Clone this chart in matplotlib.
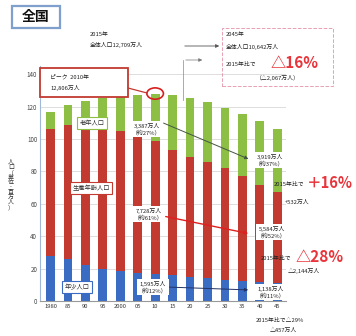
import numpy as np
import matplotlib
matplotlib.use('Agg')
import matplotlib.pyplot as plt
from matplotlib.patches import Ellipse, Rectangle

plt.rcParams['font.family'] = ['Noto Sans CJK JP', 'DejaVu Sans']

# 年次と年齢3区分別人口（百万人）
years = ['1980', '85', '90', '95', '2000', '05', '10', '15', '20', '25', '30', '35', '40', '45']
young = [27.5, 26.0, 22.5, 20.0, 18.5, 17.5, 16.8, 15.95, 15.07, 14.07, 13.21, 12.46, 11.94, 11.38]
working = [78.8, 82.5, 85.9, 87.2, 86.2, 84.1, 81.7, 77.28, 74.06, 71.70, 68.75, 64.94, 59.78, 55.84]
elderly = [10.6, 12.5, 14.9, 18.3, 22.0, 25.8, 29.5, 33.87, 36.19, 36.77, 37.16, 37.82, 39.21, 39.19]
yticks = [0, 20, 40, 60, 80, 100, 120, 140]

W, H = 356, 336
fig = plt.figure(figsize=(W / 100, H / 100), dpi=100)
ax = fig.add_axes([40 / W, 1 - 301 / H, 246 / W, 235 / H])

c_young, c_work, c_old = '#3a6cc4', '#c23a30', '#8dbf45'
x = np.arange(len(years))
y_a = np.array(young)
w_a = np.array(working)
o_a = np.array(elderly)
ax.bar(x, y_a, 0.5, color=c_young, zorder=2)
ax.bar(x, w_a, 0.5, bottom=y_a, color=c_work, zorder=2)
ax.bar(x, o_a, 0.5, bottom=y_a + w_a, color=c_old, zorder=2)

ax.set_xlim(-0.6, 13.5)
ax.set_ylim(0, 145)
ax.set_xticks(x)
ax.set_xticklabels(years, fontsize=4.2, color='#333333')
ax.set_yticks(yticks)
ax.set_yticklabels([str(v) for v in yticks], fontsize=4.5, color='#444444')
ax.tick_params(length=0, pad=2)
for v in yticks[1:]:
    ax.axhline(v, color='#d8d8d8', lw=0.6, zorder=1)
for s in ['top', 'right']:
    ax.spines[s].set_visible(False)
ax.spines['left'].set_color('#9fb8d8')
ax.spines['bottom'].set_color('#999999')
ax.spines['left'].set_linewidth(0.8)
ax.spines['bottom'].set_linewidth(0.8)

# ピークの丸
ax.add_patch(Ellipse((6, sum([young[6], working[6], elderly[6]])), 0.95, 7,
                     fill=False, ec='#d62020', lw=1.2, zorder=4))


def ftxt(px, py, s, **kw):
    return fig.text(px / W, 1 - py / H, s, **kw)


def frect(x0, y0, x1, y1, **kw):
    fig.add_artist(Rectangle((x0 / W, 1 - y1 / H), (x1 - x0) / W, (y1 - y0) / H,
                             transform=fig.transFigure, **kw))


def farrow(x0, y0, x1, y1, color, lw=0.8, head=True):
    fig.add_artist(matplotlib.patches.FancyArrowPatch(
        (x0 / W, 1 - y0 / H), (x1 / W, 1 - y1 / H), transform=fig.transFigure,
        arrowstyle='-|>' if head else '-', mutation_scale=5, color=color, lw=lw))


small = dict(fontsize=4.2, color='#222222')
wbox = dict(facecolor='white', edgecolor='none', pad=0.8)

# 見出し
frect(12, 6, 60, 28, fc='white', ec='#7f9fcc', lw=1.6)
ftxt(36, 17, '全国', fontsize=10, fontweight='bold', ha='center', va='center', color='#111111')

# 上部の注記
ftxt(90, 34, '2015年', ha='left', va='center', **small)
ftxt(90, 45, '全体人口12,709万人', ha='left', va='center', **small)
farrow(182, 46, 222, 46, '#555555', lw=0.6)
fig.add_artist(plt.Line2D([183 / W, 183 / W], [1 - 60 / H, 1 - 100 / H],
                          transform=fig.transFigure, color='#888888', lw=0.5))
farrow(183, 60, 205, 60, '#777777', lw=0.5)

frect(222, 28, 333, 86, fill=False, ec='#e8a0b4', ls='--', lw=0.7)
ftxt(226, 35, '2045年', ha='left', va='center', **small)
ftxt(226, 47, '全体人口10,642万人', ha='left', va='center', **small)
ftxt(226, 64, '2015年比で', ha='left', va='center', **small)
ftxt(271, 63, '△16%', fontsize=11, fontweight='bold', color='#e8343a', ha='left', va='center')
ftxt(256, 78, '（△2,067万人）', ha='left', va='center', **small)

# ピークの吹き出し
frect(40, 68, 128, 97, fc='white', ec='#c23a30', lw=1.3)
ftxt(50, 77, 'ピーク  2010年', ha='left', va='center', **small)
ftxt(50, 88, '12,806万人', ha='left', va='center', **small)
fig.add_artist(plt.Line2D([128 / W, 147 / W], [1 - 88 / H, 1 - 93 / H],
                          transform=fig.transFigure, color='#c23a30', lw=0.9))

# 区分ラベル
ftxt(92, 123, '老年人口', ha='center', va='center', fontsize=4.5, color='#333333',
     bbox=dict(facecolor='white', edgecolor=c_old, lw=0.8, pad=1.5))
ftxt(91, 188, '生産年齢人口', ha='center', va='center', fontsize=4.5, color='#333333',
     bbox=dict(facecolor='white', edgecolor=c_work, lw=0.8, pad=1.5))
ftxt(77, 287, '年少人口', ha='center', va='center', fontsize=4.5, color='#333333',
     bbox=dict(facecolor='white', edgecolor=c_young, lw=0.8, pad=1.5))

# 2015年の値
ftxt(147, 129, '3,387万人\n（約27%）', ha='center', va='center', linespacing=1.2, bbox=wbox, **small)
ftxt(149, 214, '7,728万人\n（約61%）', ha='center', va='center', linespacing=1.2, bbox=wbox, **small)
ftxt(153, 287, '1,595万人\n（約12%）', ha='center', va='center', linespacing=1.2, bbox=wbox, **small)

# 2045年の値
ftxt(270, 160, '3,919万人\n（約37%）', ha='center', va='center', linespacing=1.2, bbox=wbox, **small)
ftxt(272, 232, '5,584万人\n（約52%）', ha='center', va='center', linespacing=1.2, bbox=wbox, **small)
ftxt(271, 292, '1,138万人\n（約11%）', ha='center', va='center', linespacing=1.2, bbox=wbox, **small)

farrow(161, 122, 251, 160, '#445544', lw=0.7)
farrow(163, 216, 251, 234, '#e02020', lw=1.0)
farrow(166, 287, 251, 290, '#223366', lw=0.7)

ftxt(274, 184, '2015年比で', ha='left', va='center', **small)
ftxt(307, 183, '＋16%', fontsize=10.5, fontweight='bold', color='#e8343a', ha='left', va='center')
ftxt(285, 202, '+532万人', ha='left', va='center', **small)
ftxt(261, 258, '2015年比で', ha='left', va='center', **small)
ftxt(296, 257, '△28%', fontsize=11, fontweight='bold', color='#e8343a', ha='left', va='center')
ftxt(288, 271, '△2,144万人', ha='left', va='center', **small)
ftxt(256, 320, '2015年比で△29%', ha='left', va='center', **small)
ftxt(270, 330, '△457万人', ha='left', va='center', **small)

# 縦軸タイトル（縦書き）
ftxt(11, 185, '\n'.join('人口（単位：百万人）'), ha='center', va='center',
     fontsize=4.3, color='#333333', linespacing=0.95)

fig.savefig('out.png', dpi=100, facecolor='white')
